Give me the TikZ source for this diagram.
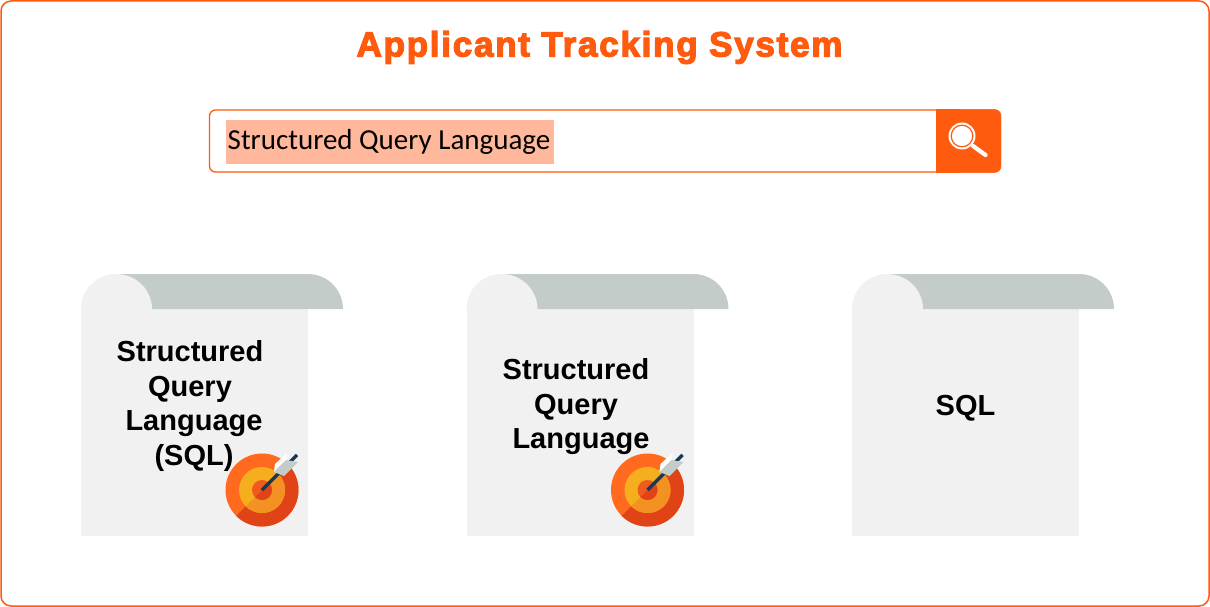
\documentclass[tikz,border=0pt]{standalone}
\usepackage{fontspec}
\setmainfont{Liberation Sans}
\newfontfamily\searchfont{Carlito}
\newfontfamily\titlefont[FakeBold=3.6,LetterSpace=5]{Liberation Sans Bold}
\usetikzlibrary{positioning}
\definecolor{brand}{HTML}{FF5B0F}
\definecolor{paper}{HTML}{F1F1F1}
\definecolor{curl}{HTML}{C4CCC9}
\definecolor{marked}{HTML}{FFB89B}
\tikzset{
	sheetlabel/.style={font=\bfseries\fontsize{29}{34.5}\selectfont, align=center, text=black, inner sep=0pt},
	sheet/.pic={
		\fill[paper] (0pt, -35pt) rectangle (227pt, -262pt);
		\fill[curl] (35pt, 0pt) -- (227pt, 0pt) arc[start angle=90, end angle=0, radius=35pt] -- (71pt, -35pt) -- cycle;
		\fill[paper] (0pt, -35pt) arc[start angle=180, end angle=90, radius=35pt] arc[start angle=90, end angle=0, x radius=36pt, y radius=35pt] -- cycle;
	},
	target/.pic={
		\fill[color={rgb,255:red,255;green,106;blue,31}] (0pt, 0pt) circle (36.5pt);
		\fill[color={rgb,255:red,224;green,68;blue,22}] (25.8pt, 25.8pt) arc[start angle=45, end angle=-135, radius=36.5pt] -- cycle;
		\fill[color={rgb,255:red,245;green,174;blue,30}] (0pt, 0pt) circle (23pt);
		\fill[color={rgb,255:red,243;green,146;blue,34}] (16.3pt, 16.3pt) arc[start angle=45, end angle=-135, radius=23pt] -- cycle;
		\fill[color={rgb,255:red,240;green,90;blue,30}] (0pt, 0pt) circle (10pt);
		\fill[color={rgb,255:red,224;green,68;blue,22}] (7.1pt, 7.1pt) arc[start angle=45, end angle=-135, radius=10pt] -- cycle;
		\draw[color={rgb,255:red,20;green,58;blue,86}, line width=3.2pt] (0pt, 0pt) -- (35pt, 35pt);
		\fill[white] (12pt, 18pt) -- (24pt, 30pt) -- (25pt, 37pt) -- (13pt, 26pt) -- cycle;
		\fill[curl] (12pt, 18pt) -- (24pt, 30pt) -- (36pt, 28pt) -- (22pt, 14pt) -- cycle;
	}
}
\begin{document}
\begin{tikzpicture}[x=1pt, y=1pt]
	\useasboundingbox (0pt, 0pt) rectangle (1210pt, -607pt);
	\draw[brand, line width=1.5pt, rounded corners=10pt, fill=white] (1pt, -1pt) rectangle (1209pt, -606pt);
	\draw (599.5pt, -47.5pt)node[text=brand, inner sep=0pt, font=\titlefont\fontsize{35}{40}\selectfont](title){Applicant Tracking System};
	% search bar
	\draw[brand, line width=1.3pt, rounded corners=6pt] (209.5pt, -110pt) rectangle (1000.5pt, -172pt);
	\fill[brand, rounded corners=6pt] (950pt, -109.5pt) rectangle (1001pt, -172.5pt);
	\fill[brand] (936pt, -109.5pt) rectangle (960pt, -172.5pt);
	\fill[marked] (226pt, -120pt) rectangle (554pt, -164pt);
	\draw (389pt, -142pt)node[inner sep=0pt, font=\searchfont\fontsize{29}{34}\selectfont](query){Structured Query Language};
	\fill[white] (962pt, -136pt) circle (13.5pt);
	\draw[brand, line width=1.2pt] (962pt, -136pt) circle (10.8pt);
	\draw[white, line width=4.2pt, line cap=round] (973pt, -146pt) -- (985.5pt, -155pt);
	% sheets
	\pic at (81pt, -274pt) {sheet};
	\pic at (466.5pt, -274pt) {sheet};
	\pic at (852pt, -274pt) {sheet};
	\draw (190pt, -406pt)node[sheetlabel](full){Structured\\Query\\\hspace*{8pt}Language\\\hspace*{8pt}(SQL)};
	\draw (576pt, -407pt)node[sheetlabel](words){Structured\\Query\\\hspace*{10pt}Language};
	\draw (965.5pt, -408.5pt)node[sheetlabel](short){SQL};
	\pic at (262pt, -490pt) {target};
	\pic at (647.5pt, -490pt) {target};
\end{tikzpicture}
\end{document}
